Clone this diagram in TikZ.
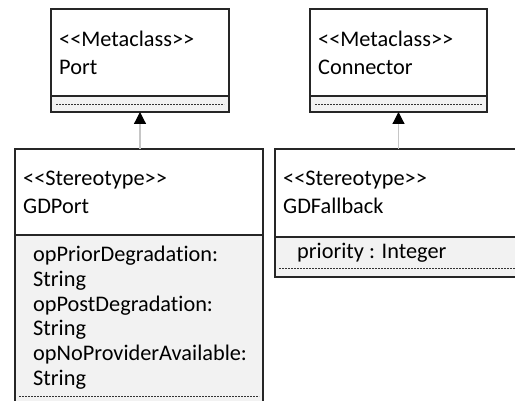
\documentclass[tikz,border=0pt]{standalone}
\usepackage{fontspec}
\setmainfont{Carlito}[Ligatures={TeXOff,NoCommon}]
\usetikzlibrary{arrows.meta}

\begin{document}
\begin{tikzpicture}[x=1pt, y=-1pt,
  font=\fontsize{22.3}{25}\selectfont,
  box/.style={draw=black!85, line width=1.3pt, anchor=north west, inner sep=0pt, outer sep=0pt},
  head/.style={box, fill=white},
  attrs/.style={box, fill=gray!10},
  txt/.style={anchor=base west, inner sep=0pt},
  sep/.style={black!80, line width=0.8pt, dash pattern=on 2pt off 1pt},
  gen/.style={draw=gray!45, line width=1.2pt, -{Triangle[width=12pt,length=12pt,color=black]}}]

  \useasboundingbox (0,0) rectangle (515,401);
  \clip (0,0) rectangle (515,401);

  % metaclasses
  \node[head, minimum width=178pt, minimum height=87pt] (port) at (51,9) {};
  \node[attrs, minimum width=178pt, minimum height=16pt] (portops) at (51,96) {};
  \node[txt] (portst) at (59,47) {<<Metaclass>>};
  \node[txt] (portname) at (59,75) {Port};
  \draw[sep] ([xshift=5pt]portops.west) -- ([xshift=-5pt]portops.east);

  \node[head, minimum width=177pt, minimum height=87pt] (conn) at (310,9) {};
  \node[attrs, minimum width=177pt, minimum height=16pt] (connops) at (310,96) {};
  \node[txt] (connst) at (318,47) {<<Metaclass>>};
  \node[txt] (connname) at (318,75) {Connector};
  \draw[sep] ([xshift=5pt]connops.west) -- ([xshift=-5pt]connops.east);

  % stereotypes
  \node[head, minimum width=248pt, minimum height=86pt] (gdport) at (15,149) {};
  \node[attrs, minimum width=248pt, minimum height=185pt] (gdportattr) at (15,235) {};
  \node[txt] (gdportst) at (23,186) {<<Stereotype>>};
  \node[txt] (gdportname) at (23,214) {GDPort};
  \node[txt] (a1) at (33,262) {opPriorDegradation:};
  \node[txt] (a2) at (33,286.6) {String};
  \node[txt] (a3) at (33,311.2) {opPostDegradation:};
  \node[txt] (a4) at (33,335.8) {String};
  \node[txt] (a5) at (33,360.4) {opNoProviderAvailable:};
  \node[txt] (a6) at (33,385) {String};
  \draw[sep] ([xshift=4pt]gdportattr.west |- 0,396) -- ([xshift=-4pt]gdportattr.east |- 0,396);

  \node[head, minimum width=260pt, minimum height=88pt] (gdfb) at (275,149) {};
  \node[attrs, minimum width=260pt, minimum height=40pt] (gdfbattr) at (275,237) {};
  \node[txt] (gdfbst) at (283,186) {<<Stereotype>>};
  \node[txt] (gdfbname) at (283,214) {GDFallback};
  \node[txt] (b1) at (297,259) {priority : Integer};
  \draw[sep] ([xshift=4pt]gdfbattr.west |- 0,268) -- ([xshift=-4pt]gdfbattr.east |- 0,268);

  % extensions
  \draw[gen] (portops.south |- gdport.north) -- (portops.south);
  \draw[gen] (connops.south |- gdfb.north) -- (connops.south);
\end{tikzpicture}
\end{document}
